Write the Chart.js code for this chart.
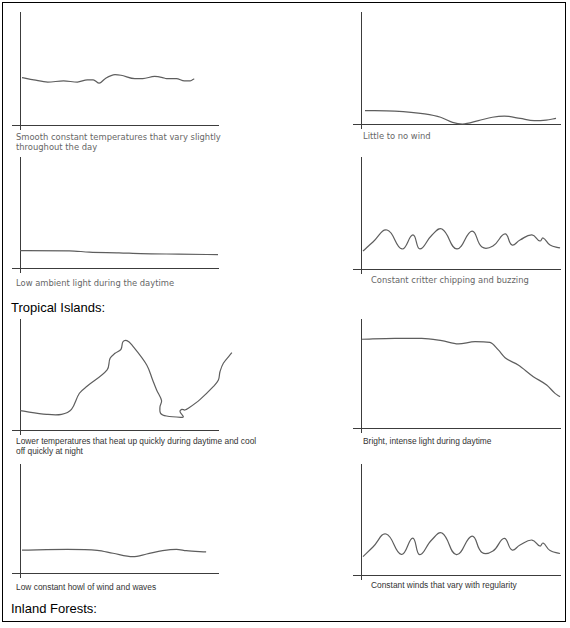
<!DOCTYPE html>
<html><head><meta charset="utf-8">
<script src="https://cdn.jsdelivr.net/npm/chart.js@4/dist/chart.umd.min.js"></script>
<style>
html,body{margin:0;padding:0;background:#fff;}
#page{position:relative;width:570px;height:628px;overflow:hidden;background:#fff;}
#frame{position:absolute;left:2px;top:2px;width:564px;height:620px;box-sizing:border-box;border:1px solid #000;}
canvas{position:absolute;}
.cap{position:absolute;white-space:pre;}
.v{font-family:"DejaVu Sans",Verdana,sans-serif;font-size:8.4px;line-height:10px;color:#666;}
.a{font-family:"Liberation Sans",Arial,sans-serif;font-size:8.4px;line-height:10px;color:#333;}
.h{font-family:"Liberation Sans",Arial,sans-serif;font-size:13px;line-height:15px;color:#000;}
</style></head>
<body><div id="page"><div id="frame"></div></div>
<script>
// ---- data (x: time across the day 0-100, y: relative level 0-100) ----
const smoothTempX = [1,7,14,22,29,34,37,40,43,48,51,58,62,68,72,74,79,83,86,88];
const smoothTempY = [42,40,38,39,38,40,40,37,41,44.5,44,41,41,43,42,41,41,39,39,41];

const littleWindX = [2,17,32,40,46,51,59,66,72,80,87,93,98];
const littleWindY = [12,11.5,9,6,1.5,0,3,6,7,5,3,3.5,5];

const lowLightX = [0,25,35,50,61,80,100];
const lowLightY = [15.6,15.5,14.3,13.7,13.0,12.5,12.0];

const critterX = [1,6,13.1,20.6,26.1,29.6,35.7,40.7,48.2,55.8,60.8,66.3,72.4,75.9,79.9,85.9,89.9,91.5,95,100];
const critterY = [16.1,24.1,34.8,17.9,30.4,17.9,30.4,35.7,17.9,33.9,19.6,20.5,31.3,21.4,25.9,30.4,25,27.7,21.4,18.8];

const islandTempX = [0,13.5,21,26,30,34,44,45.5,48,51,52,54,56.5,64,67,69,71.5,70.7,71,74,81.7,82.5,80.8,81.7,83.3,85,91,97.6,100.2,101,102.7,107];
const islandTempY = [17.4,14.1,14.1,18.6,33.1,39.6,54.1,64.6,69.1,72.7,79.5,80.5,76.6,58.6,45,36,26.4,21,15,12.6,11.4,12,16.5,18.6,18,19.5,27.6,39,45,52.5,60.1,69.6];

const islandLightX = [0.3,17,30.5,40.6,48.9,57.3,64.8,69,72.4,79,86.6,93.3,97.5,100];
const islandLightY = [81.4,82.3,82.3,80.1,77.1,79.2,78.6,71.6,64.5,57.8,47.1,39.4,31.8,28.7];

const islandHowlX = [1,24,39,47,57,64,72,79,84,94];
const islandHowlY = [21,21.7,20.8,18.1,15,17.4,20.5,21.7,20.5,19.3];

const islandWindX = [1,6,12.6,20.3,26,29.5,35.5,40.7,48,55.8,60.8,66.3,72,75.9,79.9,85.9,89.9,91.5,95,100];
const islandWindY = [16.5,25.2,36.9,18.5,33.3,18.3,31.5,37.8,18.3,35.1,20.3,21.6,33,22.5,27,31.5,26.1,28.8,22,19.4];

const captions = [
  "Smooth constant temperatures that vary slightly\nthroughout the day",
  "Little to no wind",
  "Low ambient light during the daytime",
  "Constant critter chipping and buzzing",
  "Lower temperatures that heat up quickly during daytime and cool\noff quickly at night",
  "Bright, intense light during daytime",
  "Low constant howl of wind and waves",
  "Constant winds that vary with regularity"
];
const headings = ["Tropical Islands:", "Inland Forests:"];

// ---- layout (page pixels) ----
const series = [
  [smoothTempX, smoothTempY], [littleWindX, littleWindY],
  [lowLightX, lowLightY], [critterX, critterY],
  [islandTempX, islandTempY], [islandLightX, islandLightY],
  [islandHowlX, islandHowlY], [islandWindX, islandWindY]
];
const panels = [
  {ax:20, ay:125, top:12, right:218, capX:16, capY:132, cls:'v'},
  {ax:361, ay:124, top:12, right:560, capX:363, capY:131, cls:'v'},
  {ax:20, ay:268, top:157, right:218, capX:16, capY:278, cls:'v'},
  {ax:361, ay:269, top:157, right:560, capX:371, capY:275, cls:'v', bezier:0.45},
  {ax:20, ay:430, top:319, right:218, capX:16, capY:436, cls:'a', bezier:0.35},
  {ax:361, ay:428, top:319, right:560, capX:363, capY:436, cls:'a'},
  {ax:20, ay:573, top:464, right:218, capX:16, capY:582, cls:'a'},
  {ax:361, ay:575, top:464, right:560, capX:371, capY:580, cls:'a', bezier:0.45}
];
const headingPos = [{x:11, y:300}, {x:11, y:601}];

const page = document.getElementById('page');
const AXIS = '#3c3c3c', CURVE = '#5e5e5e';
const T_Y = 8, T_X = 5, PAD_R = 16;

function onlyMinTick(scale){ scale.ticks = [{value: scale.min}]; }

panels.forEach((p, i) => {
  const cv = document.createElement('canvas');
  const w = (p.right - p.ax) + T_Y + PAD_R;
  const h = (p.ay - p.top) + T_X;
  cv.width = w; cv.height = h;
  cv.style.width = w + 'px'; cv.style.height = h + 'px';
  cv.style.left = (p.ax - T_Y) + 'px';
  cv.style.top = p.top + 'px';
  page.appendChild(cv);
  const [xs, ys] = series[i];
  new Chart(cv, {
    type: 'scatter',
    data: { datasets: [{
      data: xs.map((x, k) => ({x, y: ys[k]})),
      showLine: true, pointRadius: 0, borderColor: CURVE, borderWidth: 1.2,
      tension: p.bezier || 0.4,
      cubicInterpolationMode: p.bezier ? 'default' : 'monotone',
      clip: false
    }]},
    options: {
      responsive: false, animation: false, events: [], devicePixelRatio: 1,
      layout: { padding: {left: 0, top: 0, right: PAD_R, bottom: 0} },
      plugins: { legend: {display: false}, tooltip: {enabled: false} },
      scales: {
        x: { type: 'linear', min: 0, max: 100,
             ticks: {display: false},
             grid: {drawOnChartArea: false, drawTicks: true, tickLength: T_X, color: AXIS, lineWidth: 1},
             border: {display: true, color: AXIS, width: 1},
             afterBuildTicks: onlyMinTick },
        y: { type: 'linear', min: 0, max: 100,
             ticks: {display: false},
             grid: {drawOnChartArea: false, drawTicks: true, tickLength: T_Y, color: AXIS, lineWidth: 1},
             border: {display: true, color: AXIS, width: 1},
             afterBuildTicks: onlyMinTick }
      }
    }
  });
  const d = document.createElement('div');
  d.className = 'cap ' + p.cls;
  d.style.left = p.capX + 'px'; d.style.top = p.capY + 'px';
  d.textContent = captions[i];
  page.appendChild(d);
});

headings.forEach((t, i) => {
  const d = document.createElement('div');
  d.className = 'cap h';
  d.style.left = headingPos[i].x + 'px'; d.style.top = headingPos[i].y + 'px';
  d.textContent = t;
  page.appendChild(d);
});
</script>
</body></html>
